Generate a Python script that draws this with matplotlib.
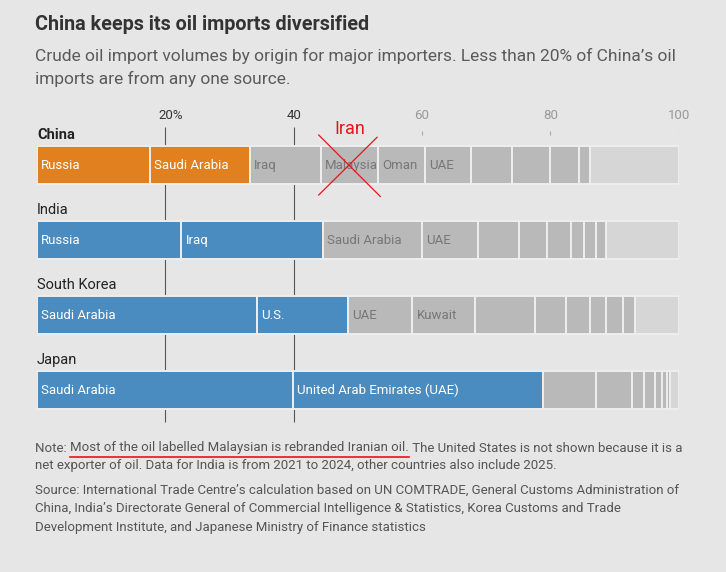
import matplotlib
matplotlib.use('Agg')
import matplotlib.pyplot as plt
import matplotlib.transforms as mtransforms
from matplotlib.lines import Line2D

plt.rcParams['font.family'] = ['Roboto', 'DejaVu Sans']

## DATA (share of crude imports, %)
countries = ['China', 'India', 'South Korea', 'Japan']

china_shares = [17.6, 15.6, 11.0, 9.0, 7.3, 7.1, 6.5, 5.9, 4.4, 1.8, 13.8]
china_labels = ['Russia', 'Saudi Arabia', 'Iraq', 'Malaysia', 'Oman', 'UAE']

india_shares = [22.5, 22.1, 15.4, 8.8, 6.3, 4.3, 3.8, 2.1, 1.8, 1.5, 11.4]
india_labels = ['Russia', 'Iraq', 'Saudi Arabia', 'UAE']

korea_shares = [34.3, 14.2, 10.0, 9.7, 9.4, 4.8, 3.7, 2.6, 2.6, 1.9, 6.8]
korea_labels = ['Saudi Arabia', 'U.S.', 'UAE', 'Kuwait']

japan_shares = [39.9, 39.0, 8.2, 5.6, 1.9, 1.7, 1.1, 0.8, 0.4, 1.4]
japan_labels = ['Saudi Arabia', 'United Arab Emirates (UAE)']

# how many leading segments are coloured
n_highlight = [2, 2, 2, 2]
tick_values = [20, 40, 60, 80, 100]

title = 'China keeps its oil imports diversified'
subtitle = ["Crude oil import volumes by origin for major importers. Less than 20% of China\u2019s oil",
            'imports are from any one source.']
note_a = 'Note: '
note_b = 'Most of the oil labelled Malaysian is rebranded Iranian oil.'
note_c = ' The United States is not shown because it is a'
note_2 = 'net exporter of oil. Data for India is from 2021 to 2024, other countries also include 2025.'
source = ['Source: International Trade Centre\u2019s calculation based on UN COMTRADE, General Customs Administration of',
          'China, India\u2019s Directorate General of Commercial Intelligence & Statistics, Korea Customs and Trade',
          'Development Institute, and Japanese Ministry of Finance statistics']

## STYLE
BG = '#e6e6e6'
ORANGE = '#e0801f'
BLUE = '#4a8cc0'
GRAY = '#b9b9b9'
LIGHT = '#d6d6d6'
RED = '#e8141c'

W, H = 726, 572
fig = plt.figure(figsize=(W / 100, H / 100), dpi=100, facecolor=BG)

def fx(px):
    return px / W

def fy(py):
    return 1 - py / H

# axes: x 0..100 spans the bar width, y units are rows (75 px apart)
ax = fig.add_axes([fx(37), fy(430), (678.7 - 37) / W, 330 / H])
ax.set_xlim(0, 100)
ax.set_ylim(3.5333, -0.8667)
ax.axis('off')

rows = [(china_shares, china_labels, ORANGE),
        (india_shares, india_labels, BLUE),
        (korea_shares, korea_labels, BLUE),
        (japan_shares, japan_labels, BLUE)]

bar_h = 38 / 75
pad = mtransforms.offset_copy(ax.transData, fig=fig, x=4, y=0, units='dots')

for i, (shares, labels, hcol) in enumerate(rows):
    left = 0
    for j, s in enumerate(shares):
        if j < n_highlight[i]:
            col, tcol = hcol, 'white'
        elif j == len(shares) - 1:
            col, tcol = LIGHT, '#777777'
        else:
            col, tcol = GRAY, '#777777'
        ax.barh(i, s, left=left, height=bar_h, color=col,
                edgecolor='#eeeeee', linewidth=1.4, zorder=2)
        if j < len(labels):
            ax.text(left, i, labels[j], transform=pad, va='center', ha='left',
                    color=tcol, fontsize=9.5, zorder=3)
        left += s
    ax.text(0, i - 30 / 75, countries[i], va='center', ha='left', fontsize=10.5,
            color='#222222', fontweight='bold' if i == 0 else 'normal')

# gridlines at 20 and 40, short ticks for the rest
ax.vlines([20, 40], -0.507, 3.427, color='#555555', linewidth=0.8, zorder=0)
ax.vlines([60, 80, 100], -0.457, -0.40, color='#aaaaaa', linewidth=0.8, zorder=0)
shift = mtransforms.offset_copy(ax.transData, fig=fig, x=-7, y=0, units='dots')
for v in tick_values:
    if v == 20:
        ax.text(v, -0.66, f'{v}%', transform=shift, ha='left', va='center',
                fontsize=9.5, color='#333333')
    else:
        ax.text(v, -0.66, str(v), ha='center', va='center', fontsize=9.5,
                color='#333333' if v == 40 else '#999999')

# Iran cross over Malaysia segment
m_left = sum(china_shares[:3])
m_mid = m_left + china_shares[3] / 2
ax.add_line(Line2D([m_mid - 4.8, m_mid + 4.8], [-0.40, 0.42], color=RED, linewidth=0.9, zorder=4))
ax.add_line(Line2D([m_mid + 4.3, m_mid - 4.8], [-0.37, 0.40], color=RED, linewidth=0.9, zorder=4))
ax.text(m_mid, -0.48, 'Iran', ha='center', va='center', fontsize=13, color=RED, zorder=4)

# titles
fig.text(fx(35), fy(25), title, fontsize=14.2, fontweight='bold', color='#333333', va='center')
fig.text(fx(35), fy(56), subtitle[0], fontsize=12.5, color='#5a5a5a', va='center')
fig.text(fx(35), fy(79), subtitle[1], fontsize=12.5, color='#5a5a5a', va='center')

# note line with red underline
renderer = fig.canvas.get_renderer()
x = fx(35)
for k, part in enumerate([note_a, note_b, note_c]):
    t = fig.text(x, fy(448), part, fontsize=9.5, color='#555555', va='center')
    bb = t.get_window_extent(renderer)
    if k == 1:
        fig.add_artist(Line2D([bb.x0 / W, bb.x1 / W], [fy(457), fy(457)],
                              color=RED, linewidth=1.2, transform=fig.transFigure))
    x = bb.x1 / W
fig.text(fx(35), fy(465), note_2, fontsize=9.5, color='#555555', va='center')

for k, line in enumerate(source):
    fig.text(fx(35), fy(490 + 18.5 * k), line, fontsize=9.5, color='#555555', va='center')

fig.savefig('out.png', dpi=100, facecolor=BG)
